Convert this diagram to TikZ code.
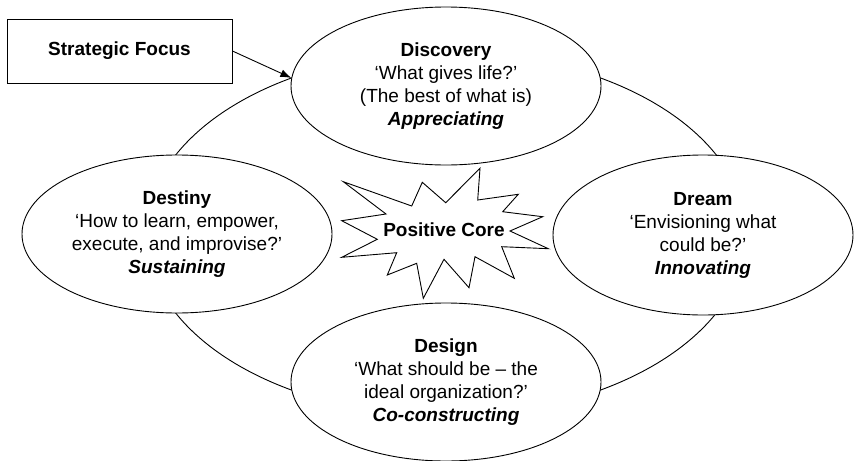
\documentclass[tikz,border=0pt]{standalone}
\usepackage{fontspec}
\setmainfont{Liberation Sans}
\usetikzlibrary{shapes.geometric,arrows.meta}
\begin{document}
\begin{tikzpicture}[x=1pt,y=-1pt,line width=0.9pt,
  txt/.style={font=\fontsize{19pt}{23pt}\selectfont},
  phase/.style={ellipse,draw,fill=white,inner sep=0pt,align=center,txt,
    minimum width=310pt,minimum height=158pt},
  focusbox/.style={rectangle,draw,fill=white,inner sep=0pt,txt,
    minimum width=225pt,minimum height=64pt}]
\useasboundingbox (0,0) rectangle (855,461);
% ring behind the phases
\draw (446,234) ellipse [x radius=300pt, y radius=182pt];
% phases
\node[phase] (disc) at (446,86) {\textbf{Discovery}\\‘What gives life?’\\(The best of what is)\\\textbf{\textit{Appreciating}}};
\node[phase] (dest) at (177,234) {\textbf{Destiny}\\‘How to learn, empower,\\execute, and improvise?’\\\textbf{\textit{Sustaining}}};
\node[phase,minimum width=300pt,minimum height=160pt] (dream) at (703,235) {\textbf{Dream}\\‘Envisioning what\\could be?’\\\textbf{\textit{Innovating}}};
\node[phase] (design) at (446,382) {\textbf{Design}\\‘What should be – the\\ideal organization?’\\\textbf{\textit{Co-constructing}}};
% positive core starburst
\draw[fill=white] (343.3,181.7) -- (411.7,206) -- (422.3,182.3) -- (445.7,202.7)
  -- (480,168.3) -- (477.7,200) -- (518.3,194.3) -- (502.7,211.7)
  -- (542.7,216.7) -- (510,231) -- (548.3,248.7) -- (501.7,246.7)
  -- (514.3,278.3) -- (475,256.7) -- (469,287.7) -- (444,259.3)
  -- (423.3,298.3) -- (416.7,263.3) -- (387.3,275) -- (396.7,252.7)
  -- (341.7,257.3) -- (377.3,239.3) -- (341.7,220.7) -- (386,214) -- cycle;
\node[txt] (core) at (444,230) {\textbf{Positive Core}};
% strategic focus
\node[focusbox] (sf) at (119.5,51) {\textbf{Strategic Focus}};
\draw[-{Latex[length=11pt,width=8pt]}] (sf.east) -- (disc.177);
\end{tikzpicture}
\end{document}
